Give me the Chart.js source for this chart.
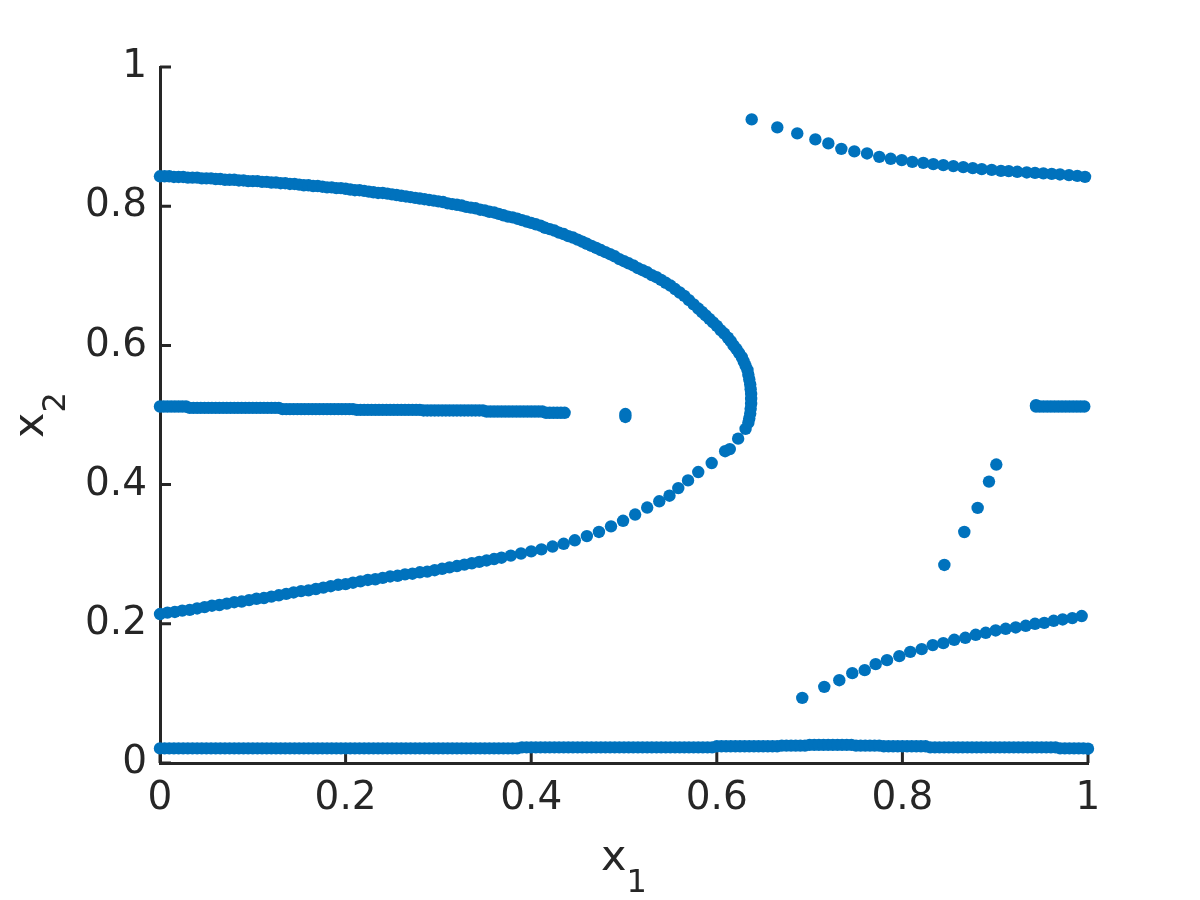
<!DOCTYPE html>
<html><head><meta charset="utf-8">
<script src="https://cdn.jsdelivr.net/npm/chart.js@4/dist/chart.umd.min.js"></script>
<style>html,body{margin:0;padding:0;background:#fff;}canvas{display:block;}</style>
</head><body>
<canvas id="c" width="1200" height="900"></canvas>
<script>
// ---- tick labels / axis labels ----
const xTicks = [0, 0.2, 0.4, 0.6, 0.8, 1];
const yTicks = [0, 0.2, 0.4, 0.6, 0.8, 1];
const xLabel = ['x', '1'];
const yLabel = ['x', '2'];

// ---- bottom band (x2 ~ 0.02) ----
const bottomX = [
0,0.005,0.01,0.015,0.02,0.025,0.03,0.035,0.04,0.045,
0.05,0.055,0.06,0.065,0.07,0.075,0.08,0.085,0.09,0.095,
0.1,0.105,0.11,0.115,0.12,0.125,0.13,0.135,0.14,0.145,
0.15,0.155,0.16,0.165,0.17,0.175,0.18,0.185,0.19,0.195,
0.2,0.205,0.21,0.215,0.22,0.225,0.23,0.235,0.24,0.245,
0.25,0.255,0.26,0.265,0.27,0.275,0.28,0.285,0.29,0.295,
0.3,0.305,0.31,0.315,0.32,0.325,0.33,0.335,0.34,0.345,
0.35,0.355,0.36,0.365,0.37,0.375,0.38,0.385,0.39,0.395,
0.4,0.405,0.41,0.415,0.42,0.425,0.43,0.435,0.44,0.445,
0.45,0.455,0.46,0.465,0.47,0.475,0.48,0.485,0.49,0.495,
0.5,0.505,0.51,0.515,0.52,0.525,0.53,0.535,0.54,0.545,
0.55,0.555,0.56,0.565,0.57,0.575,0.58,0.585,0.59,0.595,
0.6,0.605,0.61,0.615,0.62,0.625,0.63,0.635,0.64,0.645,
0.65,0.655,0.66,0.665,0.67,0.675,0.68,0.685,0.69,0.695,
0.7,0.705,0.71,0.715,0.72,0.725,0.73,0.735,0.74,0.745,
0.75,0.755,0.76,0.765,0.77,0.775,0.78,0.785,0.79,0.795,
0.8,0.805,0.81,0.815,0.82,0.825,0.83,0.835,0.84,0.845,
0.85,0.855,0.86,0.865,0.87,0.875,0.88,0.885,0.89,0.895,
0.9,0.905,0.91,0.915,0.92,0.925,0.93,0.935,0.94,0.945,
0.95,0.955,0.96,0.965,0.97,0.975,0.98,0.985,0.99,0.995,
1];
const bottomY = [
0.021,0.021,0.021,0.021,0.021,0.021,0.021,0.021,0.021,0.021,
0.021,0.021,0.021,0.021,0.021,0.021,0.021,0.021,0.021,0.021,
0.021,0.021,0.021,0.021,0.021,0.021,0.021,0.021,0.021,0.021,
0.021,0.021,0.021,0.021,0.021,0.021,0.021,0.021,0.021,0.021,
0.021,0.021,0.021,0.021,0.021,0.021,0.021,0.021,0.021,0.021,
0.021,0.021,0.021,0.021,0.021,0.021,0.021,0.021,0.021,0.021,
0.021,0.021,0.021,0.021,0.021,0.021,0.021,0.021,0.021,0.021,
0.021,0.021,0.021,0.021,0.021,0.021,0.021,0.021,0.0225,0.0225,
0.0225,0.0225,0.0225,0.0225,0.0225,0.0225,0.0225,0.0225,0.0225,0.0225,
0.0225,0.0225,0.0225,0.0225,0.0225,0.0225,0.0225,0.0225,0.0225,0.0225,
0.0225,0.0225,0.0225,0.0225,0.0225,0.0225,0.0225,0.0225,0.0225,0.0225,
0.0225,0.0225,0.0225,0.0225,0.0225,0.0225,0.0225,0.0225,0.0225,0.0225,
0.024,0.024,0.024,0.024,0.024,0.024,0.024,0.024,0.024,0.024,
0.024,0.024,0.024,0.024,0.025,0.025,0.025,0.025,0.025,0.025,
0.026,0.026,0.026,0.026,0.026,0.026,0.026,0.026,0.026,0.026,
0.025,0.025,0.025,0.025,0.025,0.025,0.024,0.024,0.024,0.024,
0.024,0.024,0.024,0.024,0.024,0.024,0.0225,0.0225,0.0225,0.0225,
0.0225,0.0225,0.0225,0.0225,0.0225,0.0225,0.0225,0.0225,0.0225,0.0225,
0.0225,0.0225,0.0225,0.0225,0.0225,0.0225,0.0225,0.0225,0.0225,0.0225,
0.0225,0.0225,0.0225,0.0225,0.021,0.021,0.021,0.021,0.021,0.021,
0.0205];

// ---- left middle band (x2 ~ 0.51) ----
const midX = [
0,0.004,0.008,0.012,0.016,0.02,0.024,0.028,0.032,0.036,
0.04,0.044,0.048,0.052,0.056,0.06,0.064,0.068,0.072,0.076,
0.08,0.084,0.088,0.092,0.096,0.1,0.104,0.108,0.112,0.116,
0.12,0.124,0.128,0.132,0.136,0.14,0.144,0.148,0.152,0.156,
0.16,0.164,0.168,0.172,0.176,0.18,0.184,0.188,0.192,0.196,
0.2,0.204,0.208,0.212,0.216,0.22,0.224,0.228,0.232,0.236,
0.24,0.244,0.248,0.252,0.256,0.26,0.264,0.268,0.272,0.276,
0.28,0.284,0.288,0.292,0.296,0.3,0.304,0.308,0.312,0.316,
0.32,0.324,0.328,0.332,0.336,0.34,0.344,0.348,0.352,0.356,
0.36,0.364,0.368,0.372,0.376,0.38,0.384,0.388,0.392,0.396,
0.4,0.404,0.408,0.412,0.416,0.42,0.424,0.428,0.432,0.436];
const midY = [
0.5122,0.5122,0.5122,0.5122,0.5122,0.5122,0.5122,0.5122,0.5103,0.5103,
0.5103,0.5103,0.5103,0.5103,0.5103,0.5103,0.5103,0.5103,0.5103,0.5103,
0.5103,0.5103,0.5103,0.5103,0.5103,0.5103,0.5103,0.5103,0.5103,0.5103,
0.5103,0.5103,0.5103,0.5084,0.5084,0.5084,0.5084,0.5084,0.5084,0.5084,
0.5084,0.5084,0.5084,0.5084,0.5084,0.5084,0.5084,0.5084,0.5084,0.5084,
0.5084,0.5084,0.5084,0.5074,0.5074,0.5074,0.5074,0.5074,0.5074,0.5074,
0.5074,0.5074,0.5074,0.5074,0.5074,0.5074,0.5074,0.5074,0.5074,0.5074,
0.5074,0.5065,0.5065,0.5065,0.5065,0.5065,0.5065,0.5065,0.5065,0.5065,
0.5065,0.5065,0.5065,0.5065,0.5065,0.5065,0.5065,0.5065,0.505,0.505,
0.505,0.505,0.505,0.505,0.505,0.505,0.505,0.505,0.505,0.505,
0.505,0.505,0.505,0.505,0.5032,0.5032,0.5032,0.5032,0.5032,0.5032];

// ---- isolated dot near (0.5, 0.5) ----
const dotX = [0.5015, 0.5015];
const dotY = [0.4972, 0.5014];

// ---- upper branch of the left curve ----
const upX = [
0,0.005,0.01,0.015,0.02,0.025,0.03,0.035,0.04,0.045,
0.05,0.055,0.06,0.065,0.07,0.075,0.08,0.085,0.09,0.095,
0.1,0.105,0.11,0.115,0.12,0.125,0.13,0.135,0.14,0.145,
0.15,0.155,0.16,0.165,0.17,0.175,0.18,0.185,0.19,0.195,
0.2,0.205,0.21,0.215,0.22,0.225,0.23,0.235,0.24,0.245,
0.25,0.255,0.26,0.265,0.27,0.275,0.28,0.285,0.29,0.295,
0.3,0.305,0.31,0.315,0.32,0.325,0.33,0.335,0.34,0.345,
0.35,0.355,0.36,0.365,0.37,0.375,0.38,0.385,0.39,0.395,
0.4,0.405,0.41,0.415,0.42,0.425,0.43,0.435,0.44,0.445,
0.45,0.455,0.46,0.465,0.47,0.475,0.48,0.485,0.49,0.495,
0.5,0.505,0.51,0.515,0.52,0.525,0.53,0.535,0.54,0.545,
0.55,0.555,0.56,0.565,0.57,
0.575,0.58,0.584,0.588,0.592,0.596,0.6,0.604,0.608,0.612,
0.615,0.618,0.621,0.624,0.627,0.629,0.631,0.633,0.634,0.635,
0.636,0.6365,0.637,0.637,0.637,0.6365,0.636,0.635,0.634];
const upY = [
0.843,0.843,0.843,0.842,0.842,0.842,0.841,0.841,0.841,0.840,
0.840,0.840,0.839,0.839,0.838,0.838,0.838,0.837,0.837,0.836,
0.836,0.836,0.835,0.835,0.834,0.834,0.833,0.833,0.832,0.832,
0.831,0.830,0.830,0.829,0.829,0.828,0.827,0.827,0.826,0.826,
0.825,0.824,0.823,0.823,0.822,0.821,0.820,0.819,0.819,0.818,
0.817,0.816,0.815,0.814,0.813,0.812,0.811,0.810,0.809,0.808,
0.807,0.806,0.804,0.803,0.802,0.801,0.799,0.798,0.797,0.795,
0.794,0.792,0.791,0.789,0.787,0.785,0.784,0.782,0.780,0.778,
0.776,0.774,0.772,0.769,0.767,0.765,0.762,0.760,0.757,0.755,
0.752,0.749,0.746,0.743,0.740,0.737,0.734,0.731,0.728,0.724,
0.721,0.718,0.715,0.711,0.708,0.705,0.701,0.698,0.694,0.690,
0.686,0.681,0.676,0.671,0.665,
0.659,0.653,0.648,0.643,0.638,0.633,0.628,0.622,0.617,0.611,
0.606,0.600,0.595,0.589,0.583,0.577,0.571,0.565,0.558,0.551,
0.544,0.537,0.530,0.523,0.516,0.509,0.502,0.495,0.489];

// ---- lower branch of the left curve ----
const loX = [
0.631,0.623,0.614,0.609,0.5945,0.58,0.569,0.5585,0.549,0.538,
0.525,0.512,0.499,0.486,0.473,0.46,0.447,0.435,0.423,0.411,
0.4,0.389,0.378,0.368,
0.36,0.352,0.344,0.336,0.328,0.32,0.312,0.304,0.296,0.288,
0.28,0.272,0.264,0.256,0.248,0.24,0.232,0.224,0.216,0.208,
0.2,0.192,0.184,0.176,0.168,0.16,0.152,0.144,0.136,0.128,
0.12,0.112,0.104,0.096,0.088,0.08,0.072,0.064,0.056,0.048,
0.04,0.032,0.024,0.016,0.008,0];
const loY = [
0.48,0.466,0.451,0.448,0.431,0.418,0.406,0.395,0.384,0.376,
0.367,0.357,0.348,0.34,0.332,0.326,0.32,0.315,0.311,0.307,
0.304,0.301,0.298,0.295,
0.293,0.291,0.289,0.287,0.285,0.283,0.281,0.279,0.277,0.275,
0.274,0.272,0.271,0.269,0.268,0.266,0.264,0.263,0.261,0.259,
0.257,0.256,0.254,0.252,0.25,0.248,0.247,0.245,0.243,0.241,
0.239,0.237,0.236,0.234,0.232,0.231,0.229,0.227,0.226,0.224,
0.222,0.22,0.219,0.217,0.216,0.214];

// ---- top-right branch ----
const trX = [0.6376,0.6652,0.6867,0.7062,0.7202,0.7342,0.7482,0.7619,0.7751,0.7874,
0.7993,0.8107,0.8225,0.8333,0.8441,0.8549,0.8656,0.8758,0.8855,0.8962,
0.9062,0.9146,0.9238,0.9340,0.9429,0.9519,0.9609,0.9698,0.9795,0.9885,0.9968];
const trY = [0.9247,0.9132,0.9046,0.8960,0.8902,0.8824,0.8787,0.8758,0.8709,0.8681,
0.8662,0.8637,0.8623,0.8604,0.8590,0.8576,0.8561,0.8547,0.8532,0.8522,
0.8508,0.8504,0.8494,0.8485,0.8479,0.8471,0.8465,0.8456,0.8446,0.8436,0.8422];

// ---- bottom-right branch ----
const brX = [0.6921,0.7158,0.7320,0.7460,0.7594,0.7712,0.7834,0.7967,0.8085,0.8208,
0.8327,0.8441,0.8559,0.8678,0.8790,0.8898,0.9005,0.9113,0.9221,0.9329,
0.9429,0.9529,0.9630,0.9727,0.9831,0.9932];
const brY = [0.0935,0.1094,0.1190,0.1291,0.1334,0.1420,0.1478,0.1535,0.1597,0.1636,
0.1694,0.1722,0.1770,0.1799,0.1842,0.1871,0.1904,0.1928,0.1947,0.1971,
0.2000,0.2014,0.2043,0.2062,0.2082,0.2111];

// ---- diagonal dots ----
const dgX = [0.8452,0.8667,0.8811,0.8933,0.9012];
const dgY = [0.2845,0.3319,0.3665,0.4043,0.4288];

// ---- right middle band ----
const rmX = [0.944,0.944,0.948,0.952,0.956,0.96,0.964,0.968,0.972,0.976,0.98,0.984,0.988,0.992,0.996];
const rmY = [0.514,0.5122,0.5122,0.5122,0.5122,0.5122,0.5122,0.5122,0.5122,0.5122,0.5122,0.5122,0.5122,0.5122,0.5122];

const BLUE = '#0072BD';
const AXIS = '#262626';
const FONT = '"DejaVu Sans", "Liberation Sans", sans-serif';

function pts(xs, ys) { return xs.map((x, i) => ({ x: x, y: ys[i] })); }

const series = [
  [bottomX, bottomY], [midX, midY], [dotX, dotY], [upX, upY], [loX, loY],
  [trX, trY], [brX, brY], [dgX, dgY], [rmX, rmY]
];

const datasets = series.map(s => ({
  data: pts(s[0], s[1]),
  backgroundColor: BLUE,
  borderColor: BLUE,
  borderWidth: 0,
  pointRadius: 6.2,
  pointHoverRadius: 6.2,
  clip: false
}));

const inwardTicks = {
  id: 'inwardTicks',
  beforeDatasetsDraw(chart) {
    const { ctx, chartArea: a, scales } = chart;
    ctx.save();
    ctx.strokeStyle = AXIS;
    ctx.lineWidth = 3;
    ctx.beginPath();
    xTicks.forEach(v => {
      const p = scales.x.getPixelForValue(v);
      ctx.moveTo(p, a.bottom); ctx.lineTo(p, a.bottom - 11);
    });
    yTicks.forEach(v => {
      const p = scales.y.getPixelForValue(v);
      ctx.moveTo(a.left, p); ctx.lineTo(a.left + 11, p);
    });
    ctx.stroke();
    ctx.restore();
  }
};

const axisTitles = {
  id: 'axisTitles',
  afterDraw(chart) {
    const { ctx, chartArea: a } = chart;
    const big = '43px ' + FONT, small = '32px ' + FONT;
    ctx.save();
    ctx.fillStyle = AXIS;
    ctx.textAlign = 'left';
    ctx.textBaseline = 'alphabetic';
    // x-axis title
    ctx.font = big; const wx = ctx.measureText(xLabel[0]).width;
    ctx.font = small; const w1 = ctx.measureText(xLabel[1]).width;
    const x0 = (a.left + a.right) / 2 - (wx + w1) / 2;
    ctx.font = big; ctx.fillText(xLabel[0], x0, a.bottom + 107);
    ctx.font = small; ctx.fillText(xLabel[1], x0 + wx, a.bottom + 129);
    // y-axis title (rotated)
    ctx.font = big; const vx = ctx.measureText(yLabel[0]).width;
    ctx.font = small; const v2 = ctx.measureText(yLabel[1]).width;
    ctx.translate(43, (a.top + a.bottom) / 2);
    ctx.rotate(-Math.PI / 2);
    const s0 = -(vx + v2) / 2;
    ctx.font = big; ctx.fillText(yLabel[0], s0, 0);
    ctx.font = small; ctx.fillText(yLabel[1], s0 + vx, 22);
    ctx.restore();
  }
};

const tickFont = { family: FONT, size: 39 };

new Chart(document.getElementById('c'), {
  type: 'scatter',
  data: { datasets: datasets },
  options: {
    responsive: false,
    devicePixelRatio: 1,
    animation: false,
    events: [],
    layout: { padding: { top: 67, right: 112, bottom: 0, left: 0 } },
    plugins: { legend: { display: false }, tooltip: { enabled: false }, title: { display: false } },
    scales: {
      x: {
        type: 'linear', position: 'bottom', min: 0, max: 1,
        afterBuildTicks: s => { s.ticks = xTicks.map(v => ({ value: v })); },
        ticks: { color: AXIS, font: tickFont, padding: 12, maxRotation: 0, autoSkip: false,
                 callback: v => String(v) },
        grid: { display: true, drawOnChartArea: false, drawTicks: false, color: 'rgba(0,0,0,0)' },
        border: { display: true, color: AXIS, width: 3 },
        afterFit: s => { s.height = 137; }
      },
      y: {
        type: 'linear', position: 'left', min: 0, max: 1,
        afterBuildTicks: s => { s.ticks = yTicks.map(v => ({ value: v })); },
        ticks: { color: AXIS, font: tickFont, padding: 13, autoSkip: false,
                 callback: v => String(v) },
        grid: { display: true, drawOnChartArea: false, drawTicks: false, color: 'rgba(0,0,0,0)' },
        border: { display: true, color: AXIS, width: 3 },
        afterFit: s => { s.width = 160; }
      }
    }
  },
  plugins: [inwardTicks, axisTitles]
});
</script>
</body></html>
